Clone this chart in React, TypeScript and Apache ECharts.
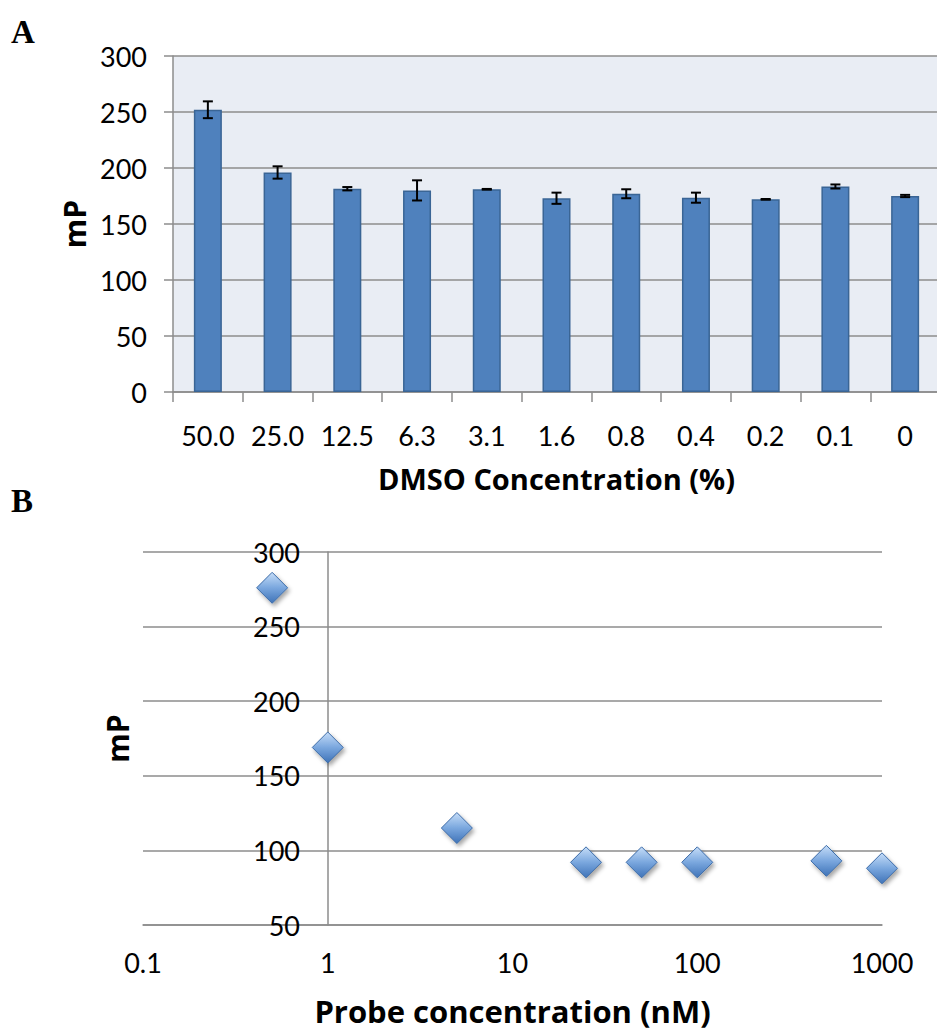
import React, { useEffect, useRef } from "react";
import * as echarts from "echarts";

const dmsoCategories = ["50.0", "25.0", "12.5", "6.3", "3.1", "1.6", "0.8", "0.4", "0.2", "0.1", "0"];
const dmsoValues = [252, 196, 181.5, 180, 181, 173, 177, 173.5, 172, 183.5, 175];
const dmsoErrors = [7.5, 5.5, 1.5, 9, 0.3, 5, 4, 4.5, 0.3, 1.8, 1];

const probeConc = [0.5, 1, 5, 25, 50, 100, 500, 1000];
const probeMp = [276, 169, 115, 92, 92, 92, 93, 88];

const yTicksA = { min: 0, max: 300, interval: 50 };
const yTicksB = { min: 50, max: 300, interval: 50 };

const FONT = "Lato";
const TITLE_FONT = "'Open Sans'";
const GRID_COLOR = "#8c8c8c";

export default function App() {
  const ref = useRef<HTMLDivElement>(null);
  useEffect(() => {
    document.body.style.margin = "0";
    if (!ref.current) return;
    const chart = echarts.init(ref.current, null, { renderer: "svg" });
    const errData = dmsoValues.map((v, i) => [i, v - dmsoErrors[i], v + dmsoErrors[i]]);
    const option: any = {
      animation: false,
      backgroundColor: "#ffffff",
      textStyle: { fontFamily: FONT },
      grid: [
        {
          left: 173, top: 56, width: 767, height: 336, show: true,
          backgroundColor: "#e9edf4", borderWidth: 0, outerBoundsMode: "none", containLabel: false,
        },
        { left: 143, top: 552, width: 739, height: 373, show: false, outerBoundsMode: "none", containLabel: false },
      ],
      xAxis: [
        {
          type: "category",
          gridIndex: 0,
          data: dmsoCategories,
          boundaryGap: true,
          axisLine: { show: true, lineStyle: { color: GRID_COLOR, width: 1.5 } },
          axisTick: { show: true, length: 10, lineStyle: { color: GRID_COLOR, width: 1.5 } },
          axisLabel: { color: "#000", fontSize: 27, fontFamily: FONT, margin: 30 },
          name: "DMSO Concentration (%)",
          nameLocation: "middle",
          nameGap: 72,
          nameTextStyle: { color: "#000", fontSize: 29, fontWeight: "bold", fontFamily: TITLE_FONT },
        },
        {
          type: "log",
          logBase: 10,
          gridIndex: 1,
          min: 0.1,
          max: 1000,
          axisLine: { show: true, lineStyle: { color: GRID_COLOR, width: 1.5 } },
          axisTick: { show: false },
          splitLine: { show: false },
          minorSplitLine: { show: false },
          axisLabel: {
            color: "#000", fontSize: 27, fontFamily: FONT, margin: 24,
            formatter: (v: number) => String(parseFloat(Number(v).toPrecision(6))),
          },
          name: "Probe concentration (nM)",
          nameLocation: "middle",
          nameGap: 70,
          nameTextStyle: { color: "#000", fontSize: 31, fontWeight: "bold", fontFamily: TITLE_FONT },
        },
      ],
      yAxis: [
        {
          type: "value",
          gridIndex: 0,
          ...yTicksA,
          axisLine: { show: true, lineStyle: { color: GRID_COLOR, width: 1.5 } },
          axisTick: { show: true, length: 9, lineStyle: { color: GRID_COLOR, width: 1.5 } },
          splitLine: { show: true, lineStyle: { color: GRID_COLOR, width: 1.5 } },
          axisLabel: { color: "#000", fontSize: 27, fontFamily: FONT, margin: 26 },
          name: "mP",
          nameLocation: "middle",
          nameGap: 84,
          nameRotate: 90,
          nameTextStyle: { color: "#000", fontSize: 30, fontWeight: "bold", fontFamily: TITLE_FONT },
        },
        {
          type: "value",
          gridIndex: 1,
          ...yTicksB,
          offset: -185,
          axisLine: { show: true, lineStyle: { color: GRID_COLOR, width: 1.5 } },
          axisTick: { show: false },
          splitLine: { show: true, lineStyle: { color: GRID_COLOR, width: 1.5 } },
          axisLabel: { color: "#000", fontSize: 27, fontFamily: FONT, margin: 28 },
          name: "mP",
          nameLocation: "middle",
          nameGap: 196,
          nameRotate: 90,
          nameTextStyle: { color: "#000", fontSize: 30, fontWeight: "bold", fontFamily: TITLE_FONT },
        },
      ],
      graphic: [
        { type: "text", left: 11, top: 15, style: { text: "A", font: "bold 33px 'Liberation Serif'", fill: "#000" } },
        { type: "text", left: 11, top: 484, style: { text: "B", font: "bold 33px 'Liberation Serif'", fill: "#000" } },
      ],
      series: [
        {
          type: "bar",
          xAxisIndex: 0,
          yAxisIndex: 0,
          data: dmsoValues,
          barWidth: 28,
          itemStyle: { color: "#4f81bd", borderColor: "#3a6595", borderWidth: 1.5 },
        },
        {
          type: "custom",
          xAxisIndex: 0,
          yAxisIndex: 0,
          data: errData,
          encode: { x: 0, y: [1, 2] },
          z: 5,
          renderItem: (params: any, api: any) => {
            const x = api.value(0);
            const lo = api.coord([x, api.value(1)]);
            const hi = api.coord([x, api.value(2)]);
            const cap = 5;
            const style = { stroke: "#000", lineWidth: 2 };
            return {
              type: "group",
              children: [
                { type: "line", shape: { x1: lo[0], y1: lo[1], x2: hi[0], y2: hi[1] }, style },
                { type: "line", shape: { x1: lo[0] - cap, y1: lo[1], x2: lo[0] + cap, y2: lo[1] }, style },
                { type: "line", shape: { x1: hi[0] - cap, y1: hi[1], x2: hi[0] + cap, y2: hi[1] }, style },
              ],
            };
          },
        },
        {
          type: "scatter",
          xAxisIndex: 1,
          yAxisIndex: 1,
          data: probeConc.map((c, i) => [c, probeMp[i]]),
          symbol: "diamond",
          symbolSize: [31, 31],
          itemStyle: {
            color: new echarts.graphic.LinearGradient(0, 0, 0, 1, [
              { offset: 0, color: "#c6ddf8" },
              { offset: 0.5, color: "#7aa7de" },
              { offset: 1, color: "#3f73b8" },
            ]),
            borderColor: "#3d6ca8",
            borderWidth: 1,
            shadowColor: "rgba(0,0,0,0.35)",
            shadowBlur: 4,
            shadowOffsetX: 2,
            shadowOffsetY: 3,
            opacity: 1,
          },
          z: 5,
        },
      ],
    };
    chart.setOption(option);
    return () => chart.dispose();
  }, []);
  return <div ref={ref} style={{ width: 937, height: 1032 }} />;
}
